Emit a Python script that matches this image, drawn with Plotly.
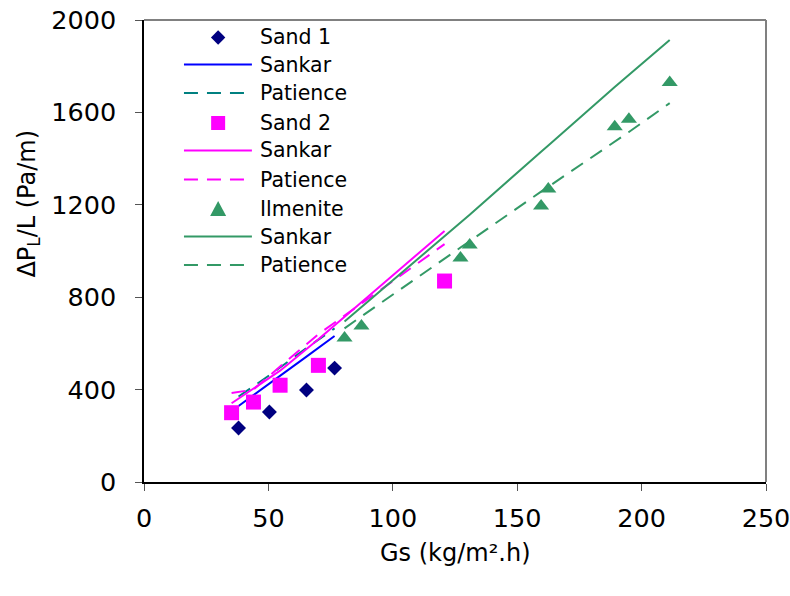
import plotly.graph_objects as go

# ---- data ----
sand1_gs = [38.0, 50.4, 65.3, 76.6]
sand1_dp = [234, 303, 398, 493]
sand1_sankar = [329, 425, 543, 632]
sand1_patience = [370, 462, 580, 665]

sand2_gs = [35.2, 44.0, 54.7, 70.1, 120.8]
sand2_dp = [300, 346, 419, 505, 870]
sand2_sankar = [341, 405, 482, 618, 1087]
sand2_patience = [385, 400, 500, 640, 1030]

ilm_gs = [80.6, 87.4, 127.2, 130.9, 159.6, 162.5, 189.2, 194.9, 211.3]
ilm_dp = [623, 675, 970, 1026, 1195, 1268, 1538, 1570, 1729]
ilm_sankar = [695, 757, 1122, 1157, 1430, 1457, 1710, 1763, 1913]
ilm_patience = [665, 717, 1015, 1043, 1257, 1278, 1475, 1515, 1640]

x_ticks = [0, 50, 100, 150, 200, 250]
y_ticks = [0, 400, 800, 1200, 1600, 2000]

legend_labels = ["Sand 1", "Sankar", "Patience", "Sand 2", "Sankar", "Patience",
                 "Ilmenite", "Sankar", "Patience"]

NAVY = "#000080"
BLUE = "#0000FF"
TEAL = "#008080"
MAG = "#FF00FF"
GREEN = "#339966"
FONT = "DejaVu Sans, sans-serif"
DASH = "14px,9px"

W, H = 790, 596
ML, MR, MT, MB = 143.5, 24, 20, 114
PW = W - ML - MR
PH = H - MT - MB


def px2x(px):
    return (px - ML) / PW


def py2y(py):
    return (H - MB - py) / PH


fig = go.Figure()
fig.add_trace(go.Scatter(x=sand1_gs, y=sand1_dp, mode="markers", name="Sand 1",
                         marker=dict(symbol="diamond", size=11.5, color=NAVY)))
fig.add_trace(go.Scatter(x=sand1_gs, y=sand1_sankar, mode="lines", name="Sankar",
                         line=dict(color=BLUE, width=2)))
fig.add_trace(go.Scatter(x=sand1_gs, y=sand1_patience, mode="lines", name="Patience",
                         line=dict(color=TEAL, width=2, dash=DASH)))
fig.add_trace(go.Scatter(x=sand2_gs, y=sand2_dp, mode="markers", name="Sand 2",
                         marker=dict(symbol="square", size=15, color=MAG)))
fig.add_trace(go.Scatter(x=sand2_gs, y=sand2_sankar, mode="lines", name="Sankar",
                         line=dict(color=MAG, width=2)))
fig.add_trace(go.Scatter(x=sand2_gs, y=sand2_patience, mode="lines", name="Patience",
                         line=dict(color=MAG, width=2, dash=DASH)))
fig.add_trace(go.Scatter(x=ilm_gs, y=ilm_dp, mode="markers", name="Ilmenite",
                         marker=dict(symbol="triangle-up", size=14, color=GREEN)))
fig.add_trace(go.Scatter(x=ilm_gs, y=ilm_sankar, mode="lines", name="Sankar",
                         line=dict(color=GREEN, width=2)))
fig.add_trace(go.Scatter(x=ilm_gs, y=ilm_patience, mode="lines", name="Patience",
                         line=dict(color=GREEN, width=2, dash=DASH)))

axis_common = dict(showgrid=False, zeroline=False, showline=True, linecolor="black",
                   linewidth=1.5, ticks="outside", ticklen=7, tickcolor="#555555",
                   automargin=False, ticklabeloverflow="allow",
                   tickfont=dict(family=FONT, size=25.5, color="black"))

fig.update_xaxes(range=[0, 250], tickvals=x_ticks, ticklabelstandoff=6, **axis_common)
fig.update_yaxes(range=[0, 2000], tickvals=y_ticks, ticklabelstandoff=14, **axis_common)

# top and right frame in grey
fig.add_shape(type="line", xref="paper", yref="paper", x0=0, x1=1, y0=1, y1=1,
              line=dict(color="#808080", width=2))
fig.add_shape(type="line", xref="paper", yref="paper", x0=1, x1=1, y0=0, y1=1,
              line=dict(color="#808080", width=2))

# ---- custom legend (symbols as shapes, labels as text) ----
row_py = [37.5, 64.5, 93, 123, 150.5, 179.5, 209, 236.5, 265]
line_x0, line_x1, sym_x, text_x = 183.5, 251.5, 217.7, 258
styles = [
    ("marker", "M0,7.2 L7.2,0 L0,-7.2 L-7.2,0 Z", NAVY, None),
    ("line", None, BLUE, "solid"),
    ("line", None, TEAL, DASH),
    ("marker", "M-7,7 L7,7 L7,-7 L-7,-7 Z", MAG, None),
    ("line", None, MAG, "solid"),
    ("line", None, MAG, DASH),
    ("marker", "M-8,-7 L8,-7 L0,8 Z", GREEN, None),
    ("line", None, GREEN, "solid"),
    ("line", None, GREEN, DASH),
]
for label, py, (kind, path, col, dash) in zip(legend_labels, row_py, styles):
    yy = py2y(py)
    if kind == "line":
        fig.add_shape(type="line", xref="paper", yref="paper",
                      x0=px2x(line_x0), x1=px2x(line_x1), y0=yy, y1=yy,
                      line=dict(color=col, width=2, dash=dash))
    else:
        fig.add_shape(type="path", xref="paper", yref="paper",
                      xsizemode="pixel", ysizemode="pixel",
                      xanchor=px2x(sym_x), yanchor=yy, path=path,
                      fillcolor=col, line=dict(width=0))
    fig.add_annotation(text=label, xref="paper", yref="paper", x=px2x(text_x), y=yy,
                       xanchor="left", yanchor="middle", showarrow=False,
                       font=dict(family=FONT, size=20.5, color="black"))

fig.add_annotation(text="Gs (kg/m².h)", xref="paper", yref="paper", x=0.5, y=py2y(553),
                   xanchor="center", yanchor="middle", showarrow=False,
                   font=dict(family=FONT, size=24, color="black"))
fig.add_annotation(text="ΔP<sub>L</sub>/L (Pa/m)", xref="paper", yref="paper",
                   x=px2x(28), y=py2y(204), xanchor="center", yanchor="middle",
                   textangle=-90, showarrow=False,
                   font=dict(family=FONT, size=24, color="black"))

fig.update_layout(
    width=W, height=H,
    margin=dict(l=ML, r=MR, t=MT, b=MB, pad=0, autoexpand=False),
    plot_bgcolor="white", paper_bgcolor="white",
    font=dict(family=FONT, size=20, color="black"),
    showlegend=False,
)

fig.write_html("out.html", config={"displayModeBar": False},
               post_script="document.body.style.margin='0';document.body.style.overflow='hidden';")
